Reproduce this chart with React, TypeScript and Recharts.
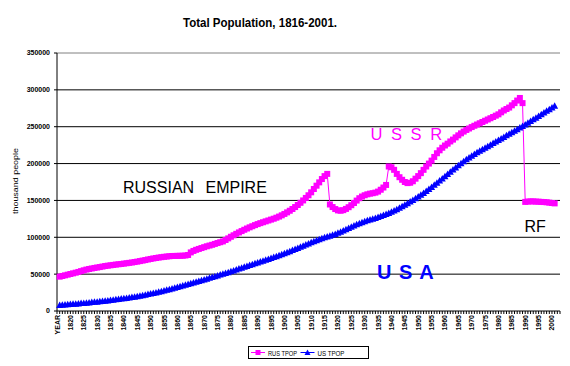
import React from "react";
import {
  LineChart,
  Line,
  XAxis,
  YAxis,
  CartesianGrid,
  ReferenceLine,
  Legend,
} from "recharts";

const RUS_COLOR = "#FF00FF";
const US_COLOR = "#0000FF";
const FONT = "'Liberation Sans', Arial, sans-serif";

// category labels: header row, then one row per year, then two blank rows
const years = Array.from({ length: 186 }, (_, i) => String(1816 + i));
const categories = ["YEAR", ...years, "", ""];

const yTicks = [0, 50000, 100000, 150000, 200000, 250000, 300000, 350000];
const gridValues = [50000, 100000, 150000, 200000, 250000, 300000];

// thousand people, 1816..2001
const rusTpop = [
  46600, 47500, 48400, 49300, 50200, 51100, 52000, 53000, 54100, 55200, // 1816
  56200, 57000, 57700, 58400, 59000, 59600, 60300, 61000, 61500, 62000, // 1826
  62500, 63000, 63400, 63800, 64300, 64800, 65300, 65800, 66400, 67000, // 1836
  67700, 68400, 69100, 69900, 70600, 71300, 71900, 72500, 73000, 73500, // 1846
  73900, 74300, 74600, 74700, 74800, 74900, 75000, 75300, 76000, 79500, // 1856
  81500, 83000, 84200, 85400, 86600, 87800, 88800, 89800, 91000, 92200, // 1866
  93300, 94400, 96300, 98500, 100700, 102700, 104700, 106600, 108400, 110200, // 1876
  111900, 113500, 115000, 116500, 117900, 119200, 120400, 121600, 122800, 124000, // 1886
  125200, 126600, 128100, 129800, 131700, 133800, 136000, 138400, 141000, 143800, // 1896
  146800, 150000, 153400, 157000, 161000, 165500, 170000, 174500, 179000, 183000, // 1906
  186000, 144500, 141000, 138300, 136500, 136000, 136800, 138500, 140800, 143500, // 1916
  146500, 149800, 153000, 155300, 157000, 158300, 159200, 159800, 160600, 162000, // 1926
  164500, 167500, 171000, 196000, 195000, 191500, 186000, 181500, 178000, 175000, // 1936
  173500, 174000, 176000, 179500, 183000, 187000, 191500, 196000, 200000, 204000, // 1946
  209000, 214000, 218000, 221500, 224500, 227000, 230000, 232500, 235500, 238300, // 1956
  241000, 243400, 245600, 247600, 249500, 251300, 253000, 254700, 256400, 258100, // 1966
  259800, 261500, 263200, 265000, 266800, 269500, 272000, 274000, 276000, 279000, // 1976
  282000, 285500, 289000, 282000, 148000, 148500, 148700, 148700, 148400, 148300, // 1986
  148000, 147800, 147500, 147000, 146500, 146000, // 1996
];

const usTpop = [
  8100, 8400, 8700, 9000, 9400, 9700, 10000, 10300, 10700, 11000, // 1816
  11300, 11700, 12100, 12500, 12700, 13100, 13500, 13900, 14300, 14800, // 1826
  15300, 15800, 16300, 16800, 17300, 17800, 18300, 18900, 19500, 20100, // 1836
  20800, 21500, 22200, 22900, 23600, 24400, 25200, 26000, 26900, 27800, // 1846
  28700, 29600, 30600, 31600, 32600, 33600, 34600, 35600, 36600, 37600, // 1856
  38700, 39700, 40700, 41700, 42800, 43900, 45000, 46100, 47200, 48300, // 1866
  49400, 50500, 51600, 52700, 53900, 55100, 56300, 57500, 58700, 59900, // 1876
  61100, 62300, 63500, 64700, 65900, 67100, 68300, 69500, 70700, 71900, // 1886
  73100, 74300, 75600, 76900, 78300, 79700, 81100, 82600, 84100, 85600, // 1896
  87100, 88600, 90100, 91600, 93100, 94600, 96000, 97400, 98700, 99900, // 1906
  101000, 102200, 103300, 104500, 106000, 107600, 109200, 110900, 112600, 114300, // 1916
  116000, 117600, 119100, 120500, 121800, 123000, 124000, 125000, 126200, 127500, // 1926
  128800, 130100, 131500, 133000, 134600, 136300, 138100, 140000, 142000, 144100, // 1936
  146200, 148400, 150600, 152900, 155200, 157600, 160100, 162700, 165400, 168200, // 1946
  171100, 174000, 176900, 179800, 182800, 185800, 188800, 191800, 194800, 197700, // 1956
  200500, 203200, 205800, 208300, 210700, 213000, 215200, 217300, 219400, 221500, // 1966
  223600, 225700, 227800, 229900, 232000, 234100, 236200, 238300, 240400, 242500, // 1976
  244600, 246700, 248800, 250900, 253100, 255400, 257700, 260000, 262300, 264600, // 1986
  266900, 269200, 271500, 273800, 276100, 278300, // 1996
];

const seriesValue = (arr: number[], i: number) =>
  i === 0 || i > arr.length ? null : arr[i - 1];

const chartData = categories.map((year, i) => ({
  year,
  rus: seriesValue(rusTpop, i),
  us: seriesValue(usTpop, i),
}));

const PLOT_BOTTOM = 311;

const XTick = (props: any) => {
  const { x, index, payload } = props;
  return (
    <g>
      <line x1={x} x2={x} y1={PLOT_BOTTOM} y2={PLOT_BOTTOM + 3} stroke="#000" />
      {index % 5 === 0 && (
        <text
          x={x + 2.5}
          y={PLOT_BOTTOM + 4}
          transform={`rotate(-90, ${x + 2.5}, ${PLOT_BOTTOM + 4})`}
          textAnchor="end"
          fontSize={7}
          fontWeight="bold"
          fontFamily={FONT}
          fill="#000"
        >
          {payload.value}
        </text>
      )}
    </g>
  );
};

const squareDot = (props: any) => {
  const { cx, cy, index } = props;
  if (cx == null || cy == null) return <g key={`r${index}`} />;
  return (
    <rect key={`r${index}`} x={cx - 3} y={cy - 3} width={6} height={6} fill={RUS_COLOR} />
  );
};

const triangleDot = (props: any) => {
  const { cx, cy, index } = props;
  if (cx == null || cy == null) return <g key={`u${index}`} />;
  return (
    <polygon
      key={`u${index}`}
      points={`${cx},${cy - 3.5} ${cx - 3.5},${cy + 3} ${cx + 3.5},${cy + 3}`}
      fill={US_COLOR}
    />
  );
};

const LegendBox = (props: any) => {
  const items = props.payload || [];
  return (
    <svg width={121} height={13} style={{ display: "block" }}>
      <rect x={0.5} y={0.5} width={120} height={12} fill="#fff" stroke="#000" />
      {items.map((item: any, i: number) => {
        const ox = i * 49.5;
        const isRus = item.dataKey === "rus";
        return (
          <g key={item.value}>
            <line x1={ox + 3} x2={ox + 17} y1={6.5} y2={6.5} stroke={item.color} />
            {isRus ? (
              <rect x={ox + 7.5} y={4} width={5} height={5} fill={item.color} />
            ) : (
              <polygon
                points={`${ox + 10},${3.5} ${ox + 7},${9} ${ox + 13},${9}`}
                fill={item.color}
              />
            )}
            <text
              x={ox + 20}
              y={9.5}
              fontSize={7}
              fontFamily={FONT}
              fill="#000"
              textLength={isRus ? 29 : 27}
              lengthAdjust="spacingAndGlyphs"
            >
              {item.value}
            </text>
          </g>
        );
      })}
    </svg>
  );
};

export default function App() {
  return (
    <div style={{ position: "relative", width: 570, height: 366, background: "#fff" }}>
      <style>{`body { margin: 0; }`}</style>
      <LineChart
        width={570}
        height={366}
        data={chartData}
        margin={{ top: 53, right: 10, bottom: 0, left: 0 }}
      >
        <CartesianGrid vertical={false} horizontalValues={gridValues} stroke="#000" />
        <ReferenceLine y={350000} stroke="#808080" />
        <XAxis
          dataKey="year"
          interval={0}
          height={55}
          tickLine={false}
          axisLine={{ stroke: "#000" }}
          tick={<XTick />}
        />
        <YAxis
          width={57}
          domain={[0, 350000]}
          ticks={yTicks}
          interval={0}
          tickSize={3}
          tickMargin={4}
          axisLine={{ stroke: "#000" }}
          tickLine={{ stroke: "#000" }}
          tick={{ fontSize: 7, fontWeight: "bold", fill: "#000", fontFamily: FONT }}
        />
        <YAxis
          yAxisId="r"
          orientation="right"
          width={0}
          domain={[0, 350000]}
          tick={false}
          tickLine={false}
          axisLine={{ stroke: "#808080" }}
        />
        <Legend
          verticalAlign="middle"
          align="center"
          layout="horizontal"
          content={<LegendBox />}
          wrapperStyle={{ top: 346, left: 248, width: 121, height: 13 }}
        />
        <Line
          dataKey="rus"
          name="RUS TPOP"
          type="linear"
          stroke={RUS_COLOR}
          strokeWidth={1}
          dot={squareDot}
          activeDot={false}
          isAnimationActive={false}
        />
        <Line
          dataKey="us"
          name="US TPOP"
          type="linear"
          stroke={US_COLOR}
          strokeWidth={1}
          dot={triangleDot}
          activeDot={false}
          isAnimationActive={false}
        />
      </LineChart>
      <svg
        width={570}
        height={366}
        style={{ position: "absolute", left: 0, top: 0, pointerEvents: "none" }}
        fontFamily={FONT}
      >
        <text
          x={260}
          y={26.5}
          textAnchor="middle"
          fontSize={12.5}
          fontWeight="bold"
          textLength={154}
          lengthAdjust="spacingAndGlyphs"
        >
          Total Population, 1816-2001.
        </text>
        <text
          x={18}
          y={181}
          transform="rotate(-90, 18, 181)"
          textAnchor="middle"
          fontSize={8}
          textLength={66}
          lengthAdjust="spacingAndGlyphs"
        >
          thousand people
        </text>
        <text x={123} y={193.3} fontSize={16} fill="#000">
          RUSSIAN
        </text>
        <text x={205.5} y={193.3} fontSize={16} fill="#000">
          EMPIRE
        </text>
        <text x={370.5} y={140} fontSize={16.5} fill={RUS_COLOR} letterSpacing={2} xmlSpace="preserve">
          U S S R
        </text>
        <text x={524.5} y={231.7} fontSize={16} fill="#000">
          RF
        </text>
        <text x={377} y={279.3} fontSize={20} fontWeight="bold" fill={US_COLOR} letterSpacing={1} xmlSpace="preserve">
          U S A
        </text>
      </svg>
    </div>
  );
}
